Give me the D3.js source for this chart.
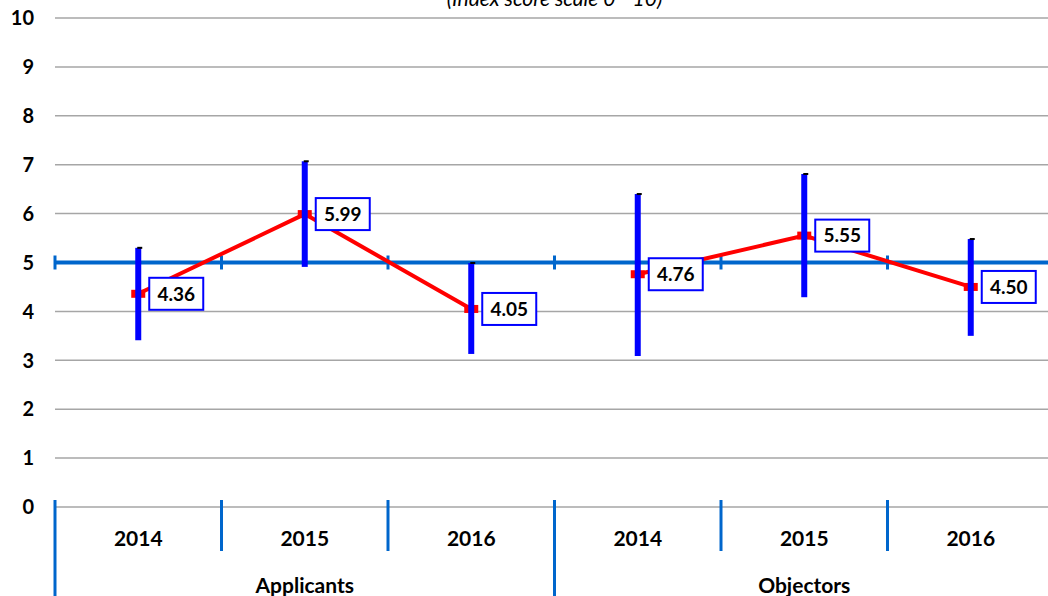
<!DOCTYPE html>
<html><head><meta charset="utf-8">
<script src="https://cdn.jsdelivr.net/npm/d3@7"></script>
<style>body{margin:0;background:#fff}svg{display:block}text{font-family:Lato,"Open Sans",sans-serif;font-weight:bold;fill:#000}</style>
</head><body><svg id="c" width="1048" height="596"></svg>
<script>
const groups = ["Applicants","Objectors"];
const years = ["2014","2015","2016"];
const means = [4.36,5.99,4.05,4.76,5.55,4.50];
const upper = [5.30,7.07,4.99,6.40,6.81,5.48];
const lower = [3.41,4.91,3.13,3.09,4.29,3.50];
const yTicks = [0,1,2,3,4,5,6,7,8,9,10];
const title = "(Index score scale 0 - 10)";
const refLine = 5;

(function(){
const svg = d3.select("#c");
const mLeft = 55, mRight = 1054, mTop = 18, mBottom = 507;
const cats = [];
groups.forEach(g => years.forEach(yr => cats.push(g + "|" + yr)));
const x = d3.scaleBand().domain(cats).range([mLeft, mRight]);
const y = d3.scaleLinear().domain([0,10]).range([mBottom, mTop]);
const bw = x.bandwidth();

svg.append("text").attr("x",(mLeft+mRight)/2).attr("y",6).attr("text-anchor","middle")
  .style("font-style","italic").style("font-weight","normal").style("font-size","21px").text(title);

// gridlines
svg.append("g").selectAll("line").data(yTicks).join("line")
  .attr("x1",mLeft).attr("x2",mRight).attr("y1",d=>y(d)).attr("y2",d=>y(d))
  .attr("stroke","#a6a6a6").attr("stroke-width",1.5);
svg.append("g").selectAll("text").data(yTicks).join("text")
  .attr("x",34).attr("y",d=>y(d)).attr("dy","0.36em").attr("text-anchor","end")
  .style("font-size","20px").text(d=>d);

// reference line at 5
svg.append("line").attr("x1",mLeft).attr("x2",mRight).attr("y1",y(refLine)).attr("y2",y(refLine))
  .attr("stroke","#0066cc").attr("stroke-width",4);
const bounds = cats.map(c=>x(c)).concat([mRight]);
svg.append("g").selectAll("line").data(bounds).join("line")
  .attr("x1",d=>d).attr("x2",d=>d).attr("y1",y(refLine)-7).attr("y2",y(refLine)+7)
  .attr("stroke","#0066cc").attr("stroke-width",3);

// bottom category axis
svg.append("g").selectAll("line").data(bounds).join("line")
  .attr("x1",d=>d).attr("x2",d=>d).attr("y1",mBottom-7)
  .attr("y2",(d,i)=> (i%3===0) ? 600 : 551)
  .attr("stroke","#0066cc").attr("stroke-width",3);
svg.append("g").selectAll("text").data(cats).join("text")
  .attr("x",c=>x(c)+bw/2).attr("y",538).attr("dy","0.36em").attr("text-anchor","middle")
  .style("font-size","21px").text(c=>c.split("|")[1]);
svg.append("g").selectAll("text").data(groups).join("text")
  .attr("x",(g,i)=>x(g+"|"+years[1])+bw/2).attr("y",585).attr("dy","0.36em").attr("text-anchor","middle")
  .style("font-size","21px").text(g=>g);

// red line
const pts = cats.map((c,i)=>[x(c)+bw/2, y(means[i])]);
svg.append("path").attr("d",d3.line()(pts.slice(0,3))).attr("fill","none").attr("stroke","#ff0000").attr("stroke-width",4);
svg.append("path").attr("d",d3.line()(pts.slice(3))).attr("fill","none").attr("stroke","#ff0000").attr("stroke-width",4);
svg.append("g").selectAll("rect").data(pts).join("rect")
  .attr("x",d=>d[0]-7).attr("y",d=>d[1]-4).attr("width",14).attr("height",8).attr("fill","#ff0000");

// error bars
svg.append("g").selectAll("line").data(cats).join("line")
  .attr("x1",c=>x(c)+bw/2).attr("x2",c=>x(c)+bw/2)
  .attr("y1",(c,i)=>y(upper[i])).attr("y2",(c,i)=>y(lower[i]))
  .attr("stroke","#0000ff").attr("stroke-width",6);
svg.append("g").selectAll("rect").data(cats).join("rect")
  .attr("x",c=>x(c)+bw/2-1).attr("y",(c,i)=>y(upper[i])-1).attr("width",5).attr("height",2).attr("fill","#000");

// labels
const lab = svg.append("g").selectAll("g").data(pts).join("g")
  .attr("transform",d=>`translate(${d[0]+11},${d[1]})`);
lab.append("rect").attr("x",0).attr("y",-16).attr("width",54).attr("height",32)
  .attr("fill","#fff").attr("stroke","#0000ff").attr("stroke-width",2);
lab.append("text").attr("x",27).attr("y",0).attr("dy","0.36em").attr("text-anchor","middle")
  .style("font-size","19px").text((d,i)=>means[i].toFixed(2));
})();
</script></body></html>
